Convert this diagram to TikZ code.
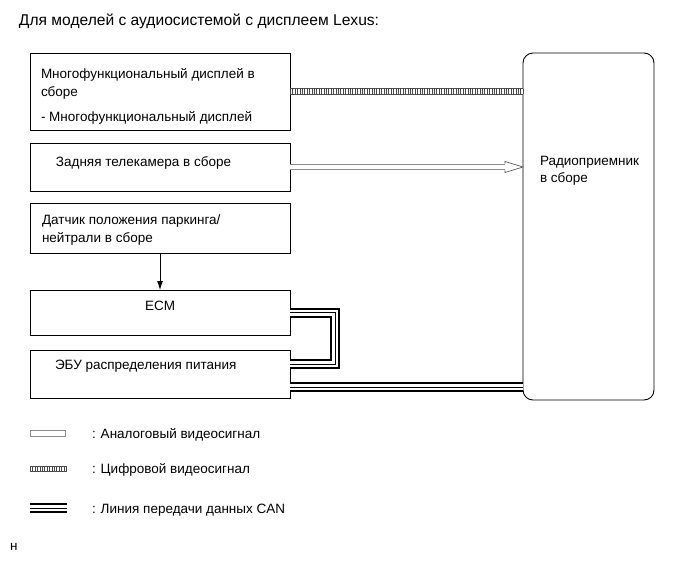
\documentclass[tikz,border=0pt]{standalone}
\usepackage{fontspec}
\setmainfont{Liberation Sans}
\usetikzlibrary{arrows.meta}
\begin{document}
\begin{tikzpicture}[x=1pt,y=-1pt,
  every node/.style={font=\fontsize{13.5}{16}\selectfont, inner sep=0pt, outer sep=0pt},
  box/.style={draw, line width=0.9pt, anchor=north west, minimum width=260pt},
  txt/.style={anchor=base west},
  can/.style={draw=black, line width=1pt, preaction={draw=black, line width=10pt}, preaction={draw=white, line width=6pt}},
  dig/.style={draw=gray!55!black, line width=4.6pt, dash pattern=on 0.9pt off 1.5pt, preaction={draw=gray!60!black, line width=6.4pt, solid}, preaction={draw=white, line width=4.6pt, solid}},
  ana/.style={draw=gray!90, line width=6.6pt, postaction={draw=white, line width=4.8pt}},
  analeg/.style={draw=gray!90, line width=0.9pt, fill=white}
]
\useasboundingbox (0,0) rectangle (686,563);

\node[txt, font=\fontsize{15.6}{18}\selectfont] (title) at (19,25) {Для моделей с аудиосистемой с дисплеем Lexus:};

\node[box, minimum height=77pt] (mfd) at (30,53) {};
\node[txt] (mfdt1) at (41,78) {Многофункциональный дисплей в};
\node[txt] (mfdt2) at (41,96) {сборе};
\node[txt] (mfdt3) at (41,121) {- Многофункциональный дисплей};

\node[box, minimum height=48pt] (cam) at (30,143) {};
\node[txt] (camt) at (56,166) {Задняя телекамера в сборе};

\node[box, minimum height=50pt] (sens) at (30,203) {};
\node[txt] (senst1) at (42,224) {Датчик положения паркинга/};
\node[txt] (senst2) at (42,242) {нейтрали в сборе};

\node[box, minimum height=45pt] (ecm) at (30,290) {};
\node[anchor=base] (ecmt) at (160,310) {ECM};

\node[box, minimum height=48pt] (ebu) at (30,350) {};
\node[txt] (ebut) at (55,369) {ЭБУ распределения питания};

\node[draw, line width=0.9pt, rounded corners=10pt, anchor=north west, minimum width=131pt, minimum height=347pt] (radio) at (523,53) {};
\node[txt] (radt1) at (540,165) {Радиоприемник};
\node[txt] (radt2) at (540,182) {в сборе};

% connectors
\draw[dig] (mfd.east) -- (mfd.east -| radio.west);

\coordinate (ah) at (cam.east -| radio.west);
\coordinate (ab) at ([xshift=-18pt]ah);
\draw[ana] (cam.east) -- (ab);
\draw[gray!70!black, line width=0.7pt, fill=white, line join=miter]
  ([yshift=3.3pt]ab) -- ([yshift=5.5pt]ab) -- (ah) -- ([yshift=-5.5pt]ab) -- ([yshift=-3.3pt]ab);

\draw[line width=0.9pt, -{Latex[length=9pt,width=6pt]}] (sens.south) -- (ecm.north);

\coordinate (c1) at (335,312.5);
\coordinate (c2) at (335,364);
\draw[can] (ecm.east) -- (c1) -- (c2) -- (c2 -| ebu.east);
\coordinate (c3) at ([yshift=-13pt]ebu.east);
\draw[can] (c3) -- (c3 -| radio.west);

% legend
\draw[analeg] (30,430) rectangle (65,436);
\node[txt] (l1) at (92,438) {: Аналоговый видеосигнал};
\draw[dig] (30,469) -- (67,469);
\node[txt] (l2) at (92,473) {: Цифровой видеосигнал};
\draw[can] (30,508) -- (67,508);
\node[txt] (l3) at (92,513) {: Линия передачи данных CAN};

\node[txt] (n) at (10,550) {н};
\end{tikzpicture}
\end{document}
